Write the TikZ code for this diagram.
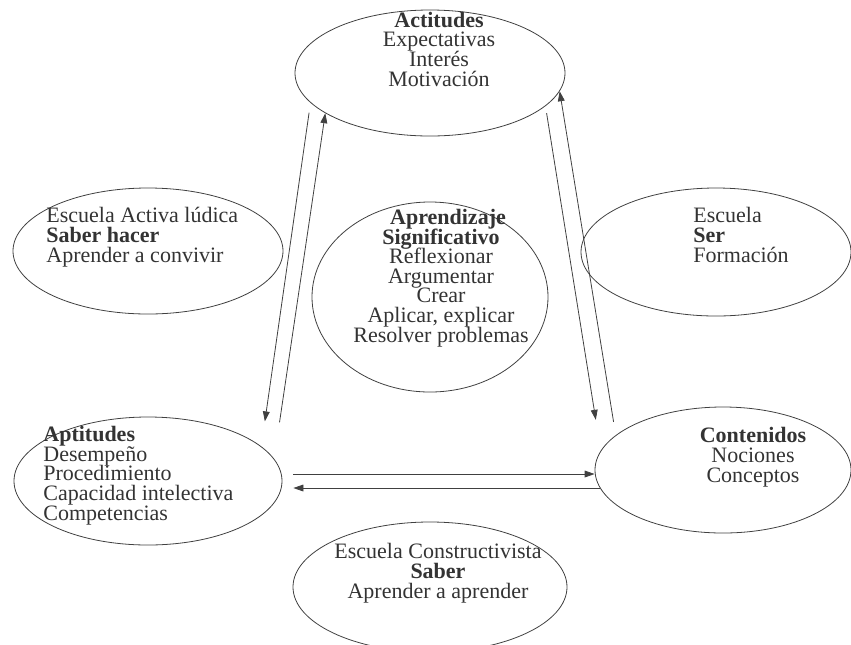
\documentclass[tikz,border=0pt]{standalone}
\usepackage{fontspec}
\setmainfont{Liberation Serif}
\usetikzlibrary{arrows.meta, shapes.geometric}
\newcommand\bubblefont{\fontsize{11}{9.8}\selectfont\lineskiplimit-10pt\relax}

\begin{document}
\begin{tikzpicture}[x=0.5pt, y=-0.5pt, ->, >={Stealth[length=5pt, width=3.4pt, inset=0pt]}, thin, draw=black!75,
  bubble/.style 2 args={ellipse, draw=black!75, minimum width=#1, minimum height=#2, inner sep=0pt},
  txt/.style={font=\bubblefont, text=black!80, inner sep=0pt}]
  \useasboundingbox (0,0) rectangle (851,644);

  % ellipses
  \node[bubble={118pt}{95pt}] (apr) at (430,297) {};
  \node[bubble={135pt}{63pt}, node distance=112pt] (act) [above of = apr] {};
  \node[bubble={135pt}{63pt}, node distance=141pt] (esa) [left of = apr, yshift=23pt] {};
  \node[bubble={135pt}{64pt}, node distance=143pt] (esr) [right of = apr, yshift=22.5pt] {};
  \node[bubble={134pt}{64pt}, node distance=115pt] (apt) [below of = esa] {};
  \node[bubble={128pt}{63pt}, node distance=109pt] (con) [below of = esr, xshift=3.5pt] {};
  \node[bubble={137pt}{65pt}, node distance=145pt] (esc) [below of = apr] {};

  % texts (base = last line)
  \node[txt, align=center, anchor=base] (actT) at (439,86) {\textbf{Actitudes}\\Expectativas\\Interés\\Motivación};
  \node[txt, align=left, anchor=base west] (esaT) at (46,262) {Escuela Activa lúdica\\\textbf{Saber hacer}\\Aprender a convivir};
  \node[txt, align=center, anchor=base] (aprT) at (441,342) {\hspace*{7pt}\textbf{Aprendizaje}\\\textbf{Significativo}\\Reflexionar\\Argumentar\\Crear\\Aplicar, explicar\\Resolver problemas};
  \node[txt, align=left, anchor=base west] (esrT) at (693,262) {Escuela\\\textbf{Ser}\\Formación};
  \node[txt, align=left, anchor=base west] (aptT) at (43,520) {\textbf{Aptitudes}\\Desempeño\\Procedimiento\\Capacidad intelectiva\\Competencias};
  \node[txt, align=center, anchor=base] (conT) at (753,482) {\textbf{Contenidos}\\Nociones\\Conceptos};
  \node[txt, align=center, anchor=base] (escT) at (438,598) {Escuela Constructivista\\\textbf{Saber}\\Aprender a aprender};

  % arrows
  \draw[shorten <=5pt, shorten >=12.6pt] (act.194.3) -- (apt.17.6);
  \draw[shorten <=18.4pt] (apt.10.3) -- (act.201.2);
  \draw[shorten <=3.6pt, shorten >=15.6pt] (act.344) -- (con.171);
  \draw[shorten <=6.7pt] (con.162.6) -- (act.352.7);
  \draw[shorten <=5.5pt] ([yshift=3.5pt]apt.east) -- ([yshift=-2pt]con.west);
  \draw[shorten >=5.5pt] ([xshift=2.5pt, yshift=-9pt]con.west) -- ([yshift=-3.5pt]apt.east);
\end{tikzpicture}
\end{document}
